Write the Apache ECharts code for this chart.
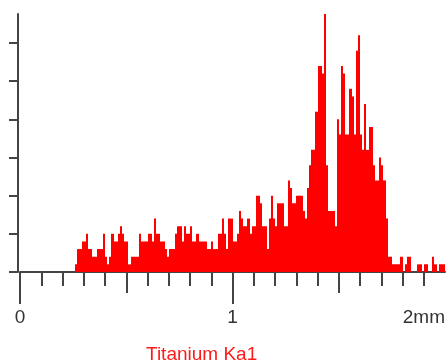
<!DOCTYPE html>
<html><head><meta charset="utf-8">
<script src="https://cdn.jsdelivr.net/npm/echarts@6/dist/echarts.min.js"></script>
<style>html,body{margin:0;padding:0;background:#fff}#c{width:448px;height:363px}</style>
</head><body><div id="c"></div>
<script>
// Histogram bins (mm along the line scan)
const binStartMm = 0.26;
const binWidthMm = 0.01;
const counts = [
  1,3,3,4,4,5,3,3,2,2,
  3,3,3,5,2,1,2,5,4,4,
  5,6,5,4,4,1,2,2,2,2,
  5,4,4,4,5,5,4,7,5,5,
  4,4,3,2,3,3,3,5,6,6,
  4,6,5,5,6,4,4,5,4,4,
  4,4,3,3,4,3,3,5,5,7,
  5,3,7,7,4,4,5,8,7,6,
  6,7,5,6,6,10,10,9,6,6,
  3,7,10,7,6,9,9,9,6,6,
  12,11,9,9,10,10,10,8,7,11,
  14,16,16,21,27,27,26,34,14,8,
  8,8,6,20,18,27,26,18,18,24,
  23,18,29,31,18,16,22,16,19,19,
  14,12,12,15,14,12,7,2,2,1,
  1,1,1,2,0,1,2,2,0,0,
  0,1,1,0,1,1,0,0,2,1,
  0,1,1,1
];
const xTickLabels = {0: '0', 1: '1', 2: '2mm'};
const xMinorTicks = [0, 0.1, 0.2, 0.3, 0.4, 0.5, 0.6, 0.7, 0.8, 0.9, 1, 1.1, 1.2, 1.3, 1.4, 1.5, 1.6, 1.7, 1.8, 1.9];
const xMidTicks = [0.5, 1.5];
const xMajorTicks = [0, 1];
const yTickValues = [0, 5, 10, 15, 20, 25, 30];
const titleText = 'Titanium Ka1';

const binData = counts.map((c, i) => {
  const s = +(binStartMm + i * binWidthMm).toFixed(4);
  return [s, +(s + binWidthMm).toFixed(4), c];
});

const axisColor = '#444';
const chart = echarts.init(document.getElementById('c'), null, {renderer: 'canvas'});
const baseX = {
  type: 'value', min: 0, max: 2, position: 'bottom', gridIndex: 0,
  splitLine: {show: false},
  axisLabel: {show: false},
  axisLine: {show: false},
};
chart.setOption({
  animation: false,
  backgroundColor: '#fff',
  title: {
    text: titleText, left: 141, top: 340,
    textStyle: {color: '#ff1a1a', fontSize: 19, fontWeight: 'normal', fontFamily: 'Liberation Sans, Arial, sans-serif'}
  },
  grid: {left: 20, right: 1.33, top: 14, bottom: 91, containLabel: false},
  xAxis: [
    Object.assign({}, baseX, {
      interval: 0.1,
      axisLine: {show: true, onZero: false, lineStyle: {color: axisColor, width: 2}},
      axisTick: {show: true, inside: false, length: 14, customValues: xMinorTicks, lineStyle: {color: axisColor, width: 2}}
    }),
    Object.assign({}, baseX, {
      interval: 0.5,
      axisTick: {show: true, inside: false, length: 21, customValues: xMidTicks, lineStyle: {color: axisColor, width: 2}}
    }),
    Object.assign({}, baseX, {
      interval: 1,
      axisTick: {show: true, inside: false, length: 32, customValues: xMajorTicks, lineStyle: {color: axisColor, width: 2}},
      axisLabel: {
        show: true, margin: 36, color: '#333', fontSize: 19,
        fontFamily: 'Liberation Sans, Arial, sans-serif',
        showMinLabel: true, showMaxLabel: true, alignMaxLabel: 'right',
        formatter: v => xTickLabels[v] !== undefined ? xTickLabels[v] : ''
      }
    })
  ],
  yAxis: {
    type: 'value', min: 0, max: 33.8, interval: 5, position: 'left', offset: 2,
    splitLine: {show: false},
    axisLabel: {show: false},
    axisLine: {show: true, onZero: false, lineStyle: {color: axisColor, width: 2}},
    axisTick: {show: true, inside: false, length: 9, customValues: yTickValues, lineStyle: {color: axisColor, width: 2}}
  },
  series: [{
    type: 'custom',
    xAxisIndex: 0,
    clip: true,
    encode: {x: [0, 1], y: 2},
    data: binData,
    renderItem: function (params, api) {
      const p0 = api.coord([api.value(0), api.value(2)]);
      const p1 = api.coord([api.value(1), 0]);
      const xa = Math.round(p0[0]), xb = Math.round(p1[0]);
      return {
        type: 'rect',
        shape: {x: xa, y: p0[1], width: xb - xa, height: p1[1] - p0[1]},
        style: {fill: '#ff0000'}
      };
    }
  }]
});
</script></body></html>
